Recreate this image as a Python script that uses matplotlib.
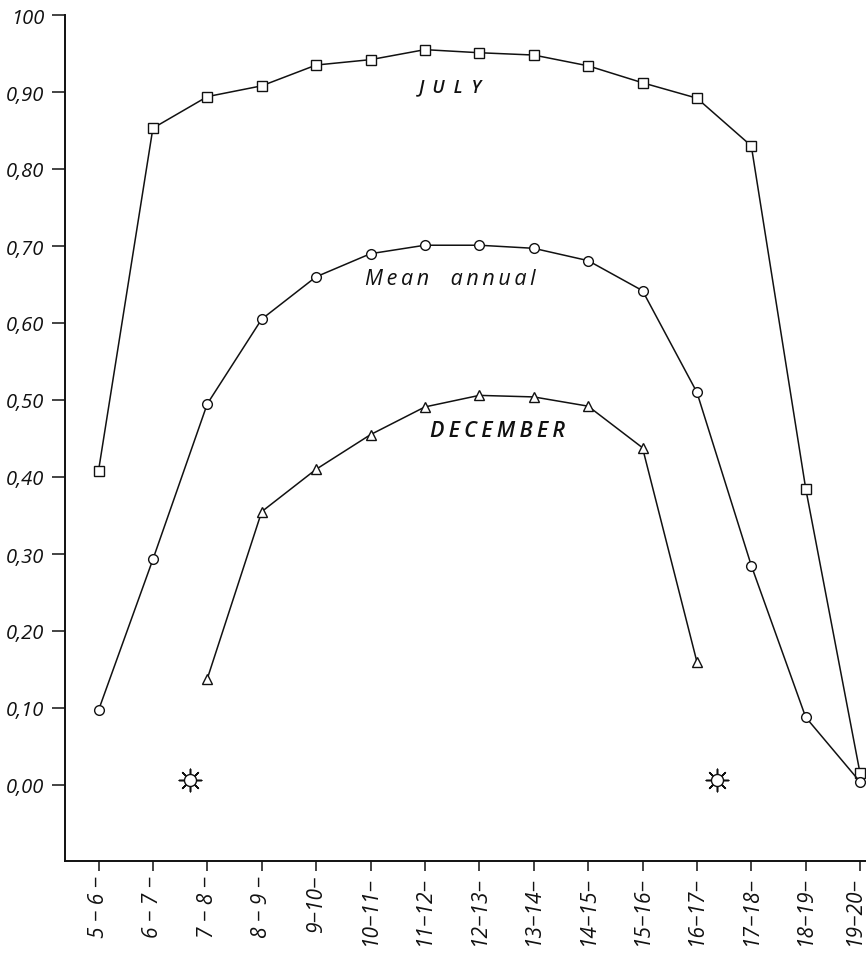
import matplotlib
matplotlib.use("Agg")
import matplotlib.pyplot as plt
from matplotlib.transforms import ScaledTranslation

hours = ["5 − 6 −","6 − 7 −","7 − 8 −","8 − 9 −","9−10−","10−11−","11−12−","12−13−","13−14−","14−15−","15−16−","16−17−","17−18−","18−19−","19−20−"]
july = [.408,.853,.894,.908,.935,.942,.955,.951,.948,.934,.912,.892,.830,.385,.015]
mean_annual = [.097,.293,.495,.605,.660,.690,.701,.701,.697,.681,.642,.510,.285,.088,.004]
december = [.138,.355,.410,.455,.491,.506,.504,.492,.438,.160]
december_start = 2
y_ticks = [0,.1,.2,.3,.4,.5,.6,.7,.8,.9,1.0]
y_labels = ["0,00","0,10","0,20","0,30","0,40","0,50","0,60","0,70","0,80","0,90","100"]
sun_x = [1.68, 11.37]
sun_y = [.006, .006]

W, H = 866, 954
fig = plt.figure(figsize=(W/100, H/100), dpi=100)
L, R, T, B = 65, 866, 16, 862
ax = fig.add_axes([L/W, 1-B/H, (R-L)/W, (B-T)/H])
x0, dx = 98.5, 54.4
ax.set_xlim((L-x0)/dx, (R-x0)/dx)
ax.set_ylim(-(B-786)/770, (786-T)/770)

c = "#111111"
style = dict(color=c, lw=1.1, mfc="white", mec=c, mew=1.0, clip_on=False)
ax.plot(range(15), july, marker="s", ms=7.5, **style)
ax.plot(range(15), mean_annual, marker="o", ms=7, **style)
ax.plot(range(december_start, december_start+len(december)), december, marker="^", ms=7.5, **style)

ax.scatter(sun_x, sun_y, marker=(8,2,0), s=260, c=c, linewidths=1.1, zorder=3)
ax.scatter(sun_x, sun_y, marker="o", s=75, c="white", edgecolors=c, linewidths=1.0, zorder=4)

for s in ("top","right"):
    ax.spines[s].set_visible(False)
for s in ("left","bottom"):
    ax.spines[s].set_linewidth(1.4)
    ax.spines[s].set_color(c)

font = dict(family=["Open Sans","DejaVu Sans"], style="italic", color=c)
ax.set_yticks(y_ticks)
ax.set_yticklabels(y_labels, fontsize=14.5, **font)
ax.tick_params(axis="y", length=9.4, width=1.1, color=c, pad=5.5)
ax.set_xticks(range(15))
ax.set_xticklabels(hours, fontsize=15, rotation=90, **font)
ax.tick_params(axis="x", length=7, width=1.1, color=c, pad=3)
last = ax.get_xticklabels()[-1]
last.set_transform(last.get_transform() + ScaledTranslation(-4/72, 0, fig.dpi_scale_trans))

def lab(px, py, s, size, **kw):
    ax.text((px-x0)/dx, (786-py)/770, s, fontsize=size, ha="center", va="center", **font, **kw)
lab(450, 87, "J U L Y".replace(" ", "\u2002"), 13, fontweight="semibold")
lab(450, 280, "\u2009".join("Mean") + "\u2002\u2002" + "\u2009".join("annual"), 15.5)
lab(497, 432, "\u2009".join("DECEMBER"), 15.5, fontweight="semibold")

fig.savefig("out.png", dpi=100)
